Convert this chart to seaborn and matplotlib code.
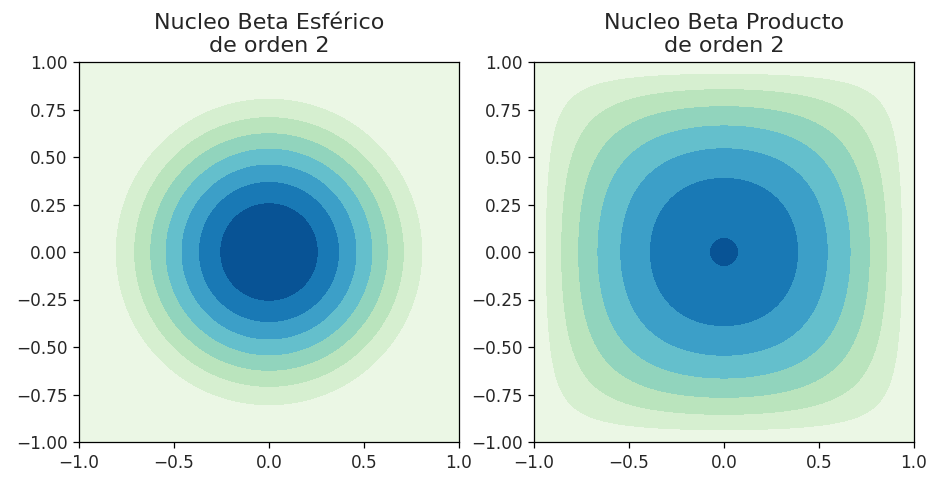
import numpy as np
import matplotlib
matplotlib.use("Agg")
import matplotlib.pyplot as plt
import seaborn as sns

# Grid limits and titles
x_limits = [-1.0, 1.0]
titles = ["Nucleo Beta Esférico\nde orden 2", "Nucleo Beta Producto\nde orden 2"]
orden = 2

# Contour levels of each kernel (relative to its peak value)
niveles_esferico = [0.0, 0.125, 0.25, 0.375, 0.5, 0.625, 0.75, 0.875, 1.0]
niveles_producto_raiz = [0.0, 0.125, 0.27, 0.415, 0.56, 0.705, 0.85, 0.995, 1.0]
niveles_producto = [v ** 2 for v in niveles_producto_raiz]

sns.set_style("ticks")

n = 400
x = np.linspace(x_limits[0], x_limits[1], n)
X, Y = np.meshgrid(x, x)

R2 = X ** 2 + Y ** 2
K_esf = np.where(R2 < 1, (1 - R2) ** orden, 0.0)
K_prod = ((1 - X ** 2) * (1 - Y ** 2)) ** orden

cmap = sns.color_palette("GnBu", as_cmap=True)
nb = len(niveles_esferico) - 1
colores = [cmap((k + 0.5) / nb) for k in range(nb)]

fig = plt.figure(figsize=(9.32, 4.79), dpi=100)
ax1 = fig.add_axes([79 / 932, 37 / 479, 380 / 932, 380 / 479])
ax2 = fig.add_axes([534 / 932, 37 / 479, 380 / 932, 380 / 479])

ax1.contourf(X, Y, K_esf, levels=niveles_esferico, colors=colores)
ax2.contourf(X, Y, K_prod, levels=niveles_producto, colors=colores)

for ax, t in zip([ax1, ax2], titles):
    ax.set_title(t, fontsize=16, pad=7)
    ax.set_xlim(x_limits)
    ax.set_ylim(x_limits)
    ax.set_xticks([-1.0, -0.5, 0.0, 0.5, 1.0])
    ax.set_yticks([-1.0, -0.75, -0.5, -0.25, 0.0, 0.25, 0.5, 0.75, 1.0])
    ax.set_yticklabels([f"{v:.2f}".replace("-", "\u2212") for v in ax.get_yticks()])
    ax.set_xticklabels([f"{v:.1f}".replace("-", "\u2212") for v in ax.get_xticks()])
    ax.tick_params(labelsize=12.2, direction="out", length=4.3, width=0.9,
                   color="black", labelcolor="#262626", pad=4)
    for s in ax.spines.values():
        s.set_visible(True)
        s.set_color("black")
        s.set_linewidth(0.9)

fig.savefig("out.png", dpi=100)
